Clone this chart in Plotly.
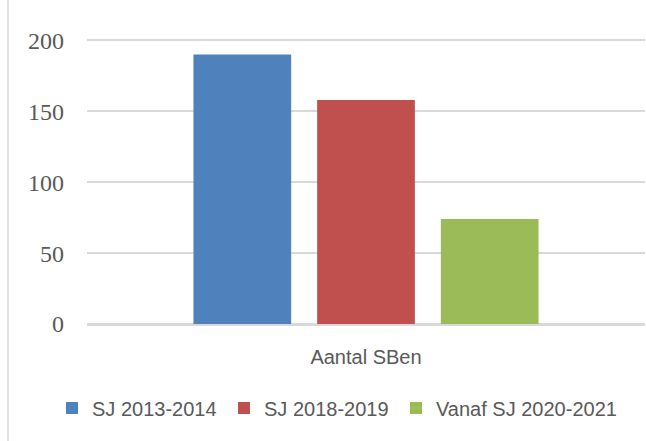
import plotly.graph_objects as go

categories = ["Aantal SBen"]
series_names = ["SJ 2013-2014", "SJ 2018-2019", "Vanaf SJ 2020-2021"]
series_values = [[190], [158], [74]]
series_colors = ["#4F81BD", "#C0504D", "#9BBB59"]
legend_widths = [127, 127, None]
y_ticks = [0, 50, 100, 150, 200]

fig = go.Figure()
for name, vals, col, lw in zip(series_names, series_values, series_colors, legend_widths):
    fig.add_trace(go.Bar(x=categories, y=vals, name=name, legendwidth=lw,
                         marker=dict(color=col, line=dict(width=0))))

W, H = 646, 441
ml, mr, mt, mb = 87, 1, 39, 117
pw = W - ml - mr
ph = H - mt - mb

def px_x(p):
    return (p - ml) / pw

def px_y(p):
    return (H - mb - p) / ph

fig.update_layout(
    width=W, height=H,
    margin=dict(l=ml, r=mr, t=mt, b=mb, autoexpand=False),
    paper_bgcolor="white", plot_bgcolor="white",
    barmode="group", bargap=0.335, bargroupgap=0.21,
    showlegend=True,
    legend=dict(orientation="h", x=px_x(52), xanchor="left", y=px_y(408), yanchor="middle",
                font=dict(family="Liberation Sans, Arial, sans-serif", size=20, color="#595959"),
                bgcolor="rgba(0,0,0,0)"),
    xaxis=dict(showgrid=False, showline=True, linecolor="#D9D9D9", linewidth=1.5,
               tickfont=dict(family="Liberation Sans, Arial, sans-serif", size=20, color="#595959"),
               ticks="", ticklabelstandoff=14, fixedrange=True),
    yaxis=dict(range=[0, 201], tickvals=y_ticks, showgrid=True, gridcolor="#D9D9D9", gridwidth=1.5,
               zeroline=True, zerolinecolor="#D9D9D9", zerolinewidth=1.5, showline=False,
               tickfont=dict(family="Liberation Serif, Times New Roman, serif", size=24, color="#595959"),
               ticks="", ticklabelstandoff=22, fixedrange=True),
    shapes=[dict(type="rect", xref="paper", yref="paper", x0=px_x(8), x1=px_x(700), y0=px_y(444), y1=px_y(-20),
                 line=dict(color="#D9D9D9", width=1.5), fillcolor="rgba(0,0,0,0)", layer="below")],
)

fig.write_html("out.html", config={"displayModeBar": False},
               post_script="document.body.style.margin='0';document.body.style.overflow='hidden';")
